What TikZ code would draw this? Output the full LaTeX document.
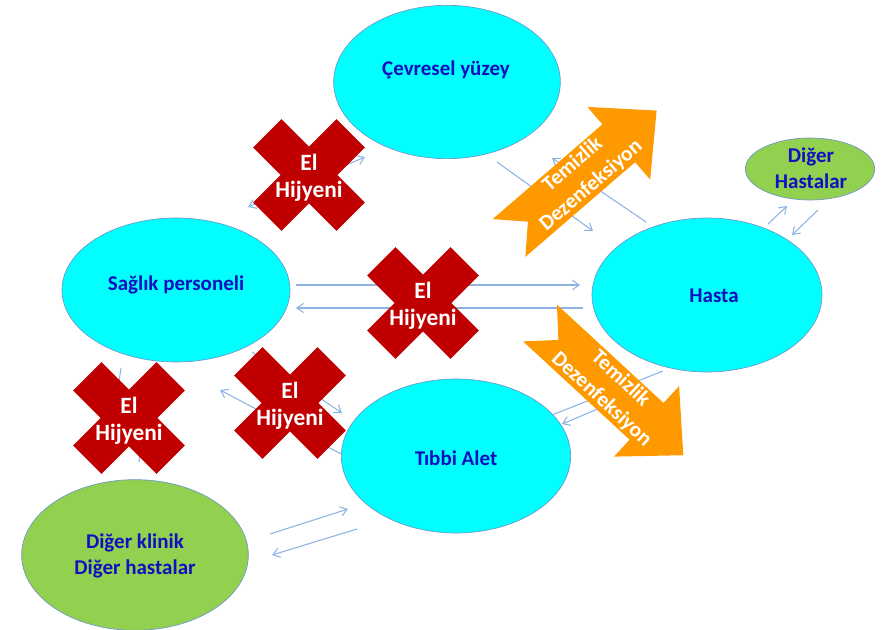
\documentclass[tikz,border=0pt]{standalone}
\usepackage{fontspec}
\setmainfont{Carlito}
\usetikzlibrary{shapes.geometric,arrows.meta}
\definecolor{cyfill}{RGB}{0,255,255}
\definecolor{grfill}{RGB}{146,208,80}
\definecolor{xred}{RGB}{192,0,0}
\definecolor{orng}{RGB}{255,153,0}
\definecolor{lineblue}{RGB}{141,179,226}
\definecolor{txtblue}{RGB}{16,16,192}
\definecolor{edgeblue}{RGB}{110,150,200}
\begin{document}
\begin{tikzpicture}[x=0.75pt,y=-0.75pt,
  conn/.style={draw=lineblue, line width=0.8pt, -{Straight Barb[length=5pt,width=7pt]}},
  conntwo/.style={draw=lineblue, line width=0.8pt, {Straight Barb[length=5pt,width=7pt]}-{Straight Barb[length=5pt,width=7pt]}},
  plainconn/.style={draw=lineblue, line width=0.8pt},
  bub/.style={ellipse, draw=edgeblue, line width=0.5pt, inner sep=0pt},
  lbl/.style={text=txtblue, font=\fontsize{15.75}{19.5}\selectfont\bfseries, align=center},
  xtxt/.style={text=white, font=\fontsize{17.5}{20}\selectfont\bfseries, align=center},
  atxt/.style={text=white, font=\fontsize{16}{21}\selectfont\bfseries, align=center},
  arrowbody/.style={fill=orng},
  crossarm/.style={fill=xred}
]
\useasboundingbox (0,0) rectangle (884,630);

% ellipses
\node[bub, fill=cyfill, minimum width=170pt, minimum height=115pt] (cev) at (447,82) {};
\node[bub, fill=cyfill, minimum width=171pt, minimum height=108pt] (sp) at (176,290) {};
\node[bub, fill=cyfill, minimum width=172.5pt, minimum height=115.5pt] (ha) at (707,295) {};
\node[bub, fill=cyfill, minimum width=172pt, minimum height=115.5pt] (ta) at (456,456) {};
\node[bub, fill=grfill, minimum width=170pt, minimum height=113pt] (dk) at (135,555) {};
\node[bub, fill=grfill, minimum width=97pt, minimum height=46.5pt] (dh) at (810,169) {};

% labels
\node[lbl] (cevt) at (446,70) {Çevresel yüzey};
\node[lbl] (spt) at (176,285) {Sağlık personeli};
\node[lbl] (hat) at (714,296) {Hasta};
\node[lbl] (tat) at (456,458) {Tıbbi Alet};
\node[lbl] (dkt) at (135,556) {Diğer klinik\\Diğer hastalar};
\node[lbl] (dht) at (811,168) {Diğer\\Hastalar};

% connector end points
\coordinate (spA) at (296,285); \coordinate (haA) at (580,285);
\coordinate (haB) at (583,308); \coordinate (spB) at (296,308);
\coordinate (spC) at (248,207); \coordinate (cevC) at (365,157);
\coordinate (cevD) at (497,162); \coordinate (haD) at (593,231);
\coordinate (haE) at (646,222); \coordinate (cevE) at (552,158);
\coordinate (haF) at (768,224); \coordinate (dhF) at (787,206);
\coordinate (dhG) at (818,210); \coordinate (haG) at (792,235);
\coordinate (taH) at (552,415); \coordinate (haH) at (663,371);
\coordinate (haI) at (645,389); \coordinate (taI) at (562,424);
\coordinate (taJ) at (343,455); \coordinate (spJ) at (220,390);
\coordinate (spK) at (252,352); \coordinate (taK) at (342,413);
\coordinate (spL) at (121,368); \coordinate (dkL) at (107,464);
\coordinate (dkM) at (139,462); \coordinate (spM) at (147,372);
\coordinate (dkN) at (270,534); \coordinate (taN) at (348,509);
\coordinate (taO) at (357,529); \coordinate (dkO) at (272,555);

% connectors
\draw[conn] (spA) -- (haA);
\draw[conn] (haB) -- (spB);
\draw[conntwo] (spC) -- (cevC);
\draw[conn] (cevD) -- (haD);
\draw[conn] (haE) -- (cevE);
\draw[conn] (haF) -- (dhF);
\draw[conn] (dhG) -- (haG);
\draw[plainconn] (taH) -- (haH);
\draw[conn] (haI) -- (taI);
\draw[conn] (taJ) -- (spJ);
\draw[conn] (spK) -- (taK);
\draw[conn] (spL) -- (dkL);
\draw[conn] (dkM) -- (spM);
\draw[conn] (dkN) -- (taN);
\draw[conn] (taO) -- (dkO);

% orange arrows
\begin{scope}[shift={(509,238)}, rotate=40.8]
  \fill[arrowbody] (0,25) -- (145,25) -- (145,48) -- (195,0) -- (145,-48) -- (145,-25) -- (0,-25) -- (25,0) -- cycle;
\end{scope}
\begin{scope}[shift={(540,323)}, rotate=-42.7]
  \fill[arrowbody] (0,25) -- (145,25) -- (145,48) -- (195,0) -- (145,-48) -- (145,-25) -- (0,-25) -- (25,0) -- cycle;
\end{scope}
\node[atxt, rotate=40.8] (ar1) at (582,175) {Temizlik\\Dezenfeksiyon};
\node[atxt, rotate=-42.7] (ar2) at (611,389) {Temizlik\\Dezenfeksiyon};

% crosses
\foreach \nm/\px/\py in {xa/309/175, xb/423/303, xc/129/418, xd/290/403}{
  \begin{scope}[shift={(\px,\py)}]
    \fill[crossarm, rotate=45] (-59,-20) rectangle (59,20);
    \fill[crossarm, rotate=-45] (-59,-20) rectangle (59,20);
  \end{scope}
  \node[xtxt] (\nm) at (\px,\py+3) {El\\Hijyeni};
}
\end{tikzpicture}
\end{document}
